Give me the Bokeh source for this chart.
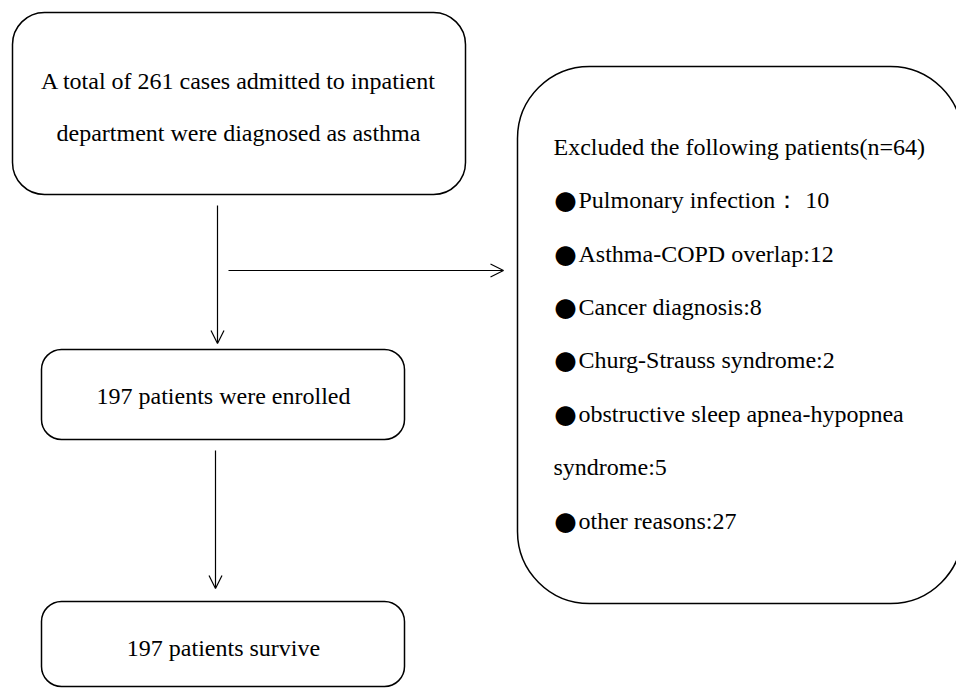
from bokeh.plotting import figure
from bokeh.models import Range1d, Arrow, OpenHead
from bokeh.core.properties import value
from bokeh.embed import file_html
from bokeh.resources import INLINE

# ---- data ----
total_cases = 261
enrolled = 197
survive = 197
excluded_total = 64
reasons = ["Pulmonary infection：  ", "Asthma-COPD overlap:", "Cancer diagnosis:",
           "Churg-Strauss syndrome:", "obstructive sleep apnea-hypopnea", "other reasons:"]
reason_counts = [10, 12, 8, 2, 5, 27]

FONT = value("Liberation Serif")
FS = "24px"

W, H = 956, 688
p = figure(width=W, height=H, output_backend="svg", toolbar_location=None,
           x_range=Range1d(0, W), y_range=Range1d(H, 0),
           min_border=0, outline_line_color=None)
p.axis.visible = False
p.grid.visible = False
p.background_fill_color = "white"

# boxes (left, right, top, bottom, radius)
boxes = [
    (12, 465, 12, 194, 32),
    (41, 404, 349, 439, 20),
    (41, 404, 601, 686, 20),
    (517, 962, 66, 603, 72),
]
for (l, r, t, b, rad) in boxes:
    p.quad(left=[l], right=[r], top=[t], bottom=[b], fill_color="white",
           line_color="black", line_width=1.5, border_radius=rad)

# arrows
arrows = [(217, 205, 217, 343), (228, 270, 503, 270), (215, 450, 215, 588)]
for (x0, y0, x1, y1) in arrows:
    p.add_layout(Arrow(x_start=x0, y_start=y0, x_end=x1, y_end=y1,
                       line_width=1.2, line_color="black",
                       end=OpenHead(size=13, line_width=1.2, line_color="black")))

def txt(x, y, s, align="center", font=FONT, size=FS):
    p.text(x=[x], y=[y], text=[s], text_font=font, text_font_size=size,
           text_align=align, text_baseline="middle", text_color="black")

txt(238, 80, f"A total of {total_cases} cases admitted to inpatient")
txt(238, 132, "department were diagnosed as asthma")
txt(223, 395, f"{enrolled} patients were enrolled")
txt(223, 647, f"{survive} patients survive")

lines = [(False, f"Excluded the following patients(n={excluded_total})")]
for r, c in zip(reasons, reason_counts):
    if r.startswith("obstructive"):
        lines.append((True, r))
        lines.append((False, f"syndrome:{c}"))
    else:
        lines.append((True, f"{r}{c}"))
ys = [146, 199, 253, 306, 359, 413, 466, 520]
for y, (bullet, s) in zip(ys, lines):
    if bullet:
        txt(554, y, "●", align="left", font=value("Noto Sans CJK SC"), size="22px")
        txt(578, y, s, align="left")
    else:
        txt(553, y, s, align="left")

open("out.html", "w").write(file_html(p, INLINE))
